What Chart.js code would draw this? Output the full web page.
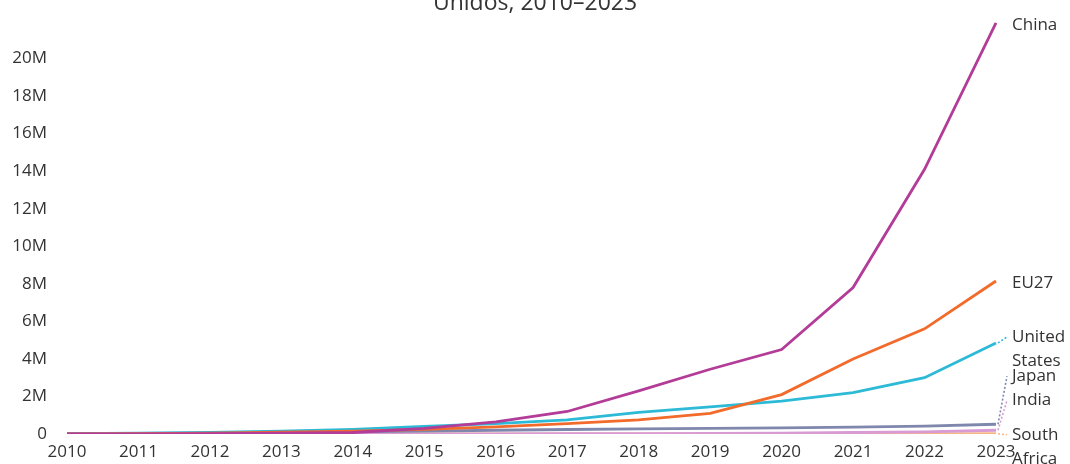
<!DOCTYPE html>
<html>
<head>
<meta charset="utf-8">
<script src="https://cdn.jsdelivr.net/npm/chart.js@4.4.1/dist/chart.umd.min.js"></script>
<style>
  html, body { margin: 0; padding: 0; background: #ffffff; }
  #wrap { position: relative; width: 1070px; height: 464px; }
</style>
</head>
<body>
<div id="wrap"><canvas id="c" width="1070" height="464"></canvas></div>
<script>
// ---- data ----
const years = ['2010','2011','2012','2013','2014','2015','2016','2017','2018','2019','2020','2021','2022','2023'];
const seriesNames = ['China', 'EU27', 'United States', 'Japan', 'India', 'South Africa'];
const china       = [0.005, 0.01, 0.02, 0.04, 0.08, 0.3, 0.65, 1.2, 2.3, 3.45, 4.5, 7.8, 14.1, 21.9];
const eu27        = [0.01, 0.02, 0.05, 0.1, 0.15, 0.25, 0.38, 0.55, 0.75, 1.1, 2.1, 4.0, 5.6, 8.15];
const unitedStates= [0.02, 0.04, 0.08, 0.15, 0.25, 0.4, 0.55, 0.75, 1.15, 1.45, 1.75, 2.2, 3.0, 4.85];
const japan       = [0.01, 0.03, 0.05, 0.08, 0.11, 0.15, 0.2, 0.24, 0.27, 0.3, 0.33, 0.37, 0.42, 0.52];
const india       = [0, 0, 0, 0, 0, 0.005, 0.01, 0.015, 0.02, 0.03, 0.05, 0.08, 0.11, 0.2];
const southAfrica = [0, 0, 0, 0, 0, 0, 0, 0.001, 0.002, 0.003, 0.004, 0.006, 0.008, 0.012];
const yTickValues = [0, 2, 4, 6, 8, 10, 12, 14, 16, 18, 20]; // millions
const titleText = 'Unidos, 2010–2023';

// ---- styles ----
const colors = ['#b23c98', '#f26b2b', '#2cbad6', '#8087ad', '#d99bd3', '#f6b585'];
const labelLines = [['China'], ['EU27'], ['United', 'States'], ['Japan'], ['India'], ['South', 'Africa']];
const labelNudge = [2, 2, -6, -48, -30, 1];
const FONT = '"Open Sans", "Noto Sans", sans-serif';
const TEXT = '#333333';

const allSeries = [china, eu27, unitedStates, japan, india, southAfrica];
const M = 1e6;

const datasets = allSeries.map((s, i) => ({
  label: seriesNames[i],
  data: s.map(v => v * M),
  borderColor: colors[i],
  backgroundColor: colors[i],
  borderWidth: 2.8,
  pointRadius: 0,
  tension: 0,
  fill: false
}));

const endLabels = {
  id: 'endLabels',
  afterDatasetsDraw(chart) {
    const ctx = chart.ctx;
    const xs = chart.scales.x, ys = chart.scales.y;
    ctx.save();
    ctx.font = '17px ' + FONT;
    ctx.textBaseline = 'middle';
    ctx.textAlign = 'left';
    allSeries.forEach((s, i) => {
      const last = s.length - 1;
      const px = xs.getPixelForValue(last);
      const py = ys.getPixelForValue(s[last] * M);
      const ly = py + labelNudge[i];
      const lx = px + 16;
      if (Math.abs(ly - py) > 4 || i === 5) {
        ctx.save();
        ctx.strokeStyle = colors[i];
        ctx.lineWidth = 1.6;
        ctx.setLineDash([2, 2]);
        ctx.beginPath();
        ctx.moveTo(px + 2, py);
        ctx.lineTo(lx - 5, ly);
        ctx.stroke();
        ctx.restore();
      }
      ctx.fillStyle = TEXT;
      labelLines[i].forEach((t, k) => ctx.fillText(t, lx, ly + k * 24));
    });
    ctx.restore();
  }
};

const topTitle = {
  id: 'topTitle',
  afterDraw(chart) {
    const ctx = chart.ctx;
    ctx.save();
    ctx.font = '23px ' + FONT;
    ctx.fillStyle = TEXT;
    ctx.textAlign = 'center';
    ctx.textBaseline = 'alphabetic';
    ctx.fillText(titleText, 535, 10);
    ctx.restore();
  }
};

new Chart(document.getElementById('c'), {
  type: 'line',
  data: { labels: years, datasets },
  options: {
    responsive: false,
    animation: false,
    devicePixelRatio: 1,
    layout: { padding: { top: 21, right: 74, left: 0, bottom: 0 } },
    plugins: { legend: { display: false }, tooltip: { enabled: false }, title: { display: false } },
    scales: {
      x: {
        offset: false,
        grid: { display: false, drawTicks: false },
        border: { display: false },
        ticks: { font: { family: FONT, size: 17 }, color: TEXT, padding: 8, maxRotation: 0, autoSkip: false },
        afterFit(scale) { scale.height = 30; }
      },
      y: {
        min: 0,
        max: 22 * M,
        grid: { display: false, drawTicks: false },
        border: { display: false },
        afterBuildTicks(scale) { scale.ticks = yTickValues.map(v => ({ value: v * M })); },
        ticks: {
          font: { family: FONT, size: 17 },
          color: TEXT,
          padding: 20,
          callback: (v) => v === 0 ? '0' : (v / M) + 'M'
        },
        afterFit(scale) { scale.width = 67; scale.paddingTop = 10; scale.paddingBottom = 10; }
      }
    }
  },
  plugins: [endLabels, topTitle]
});
</script>
</body>
</html>
